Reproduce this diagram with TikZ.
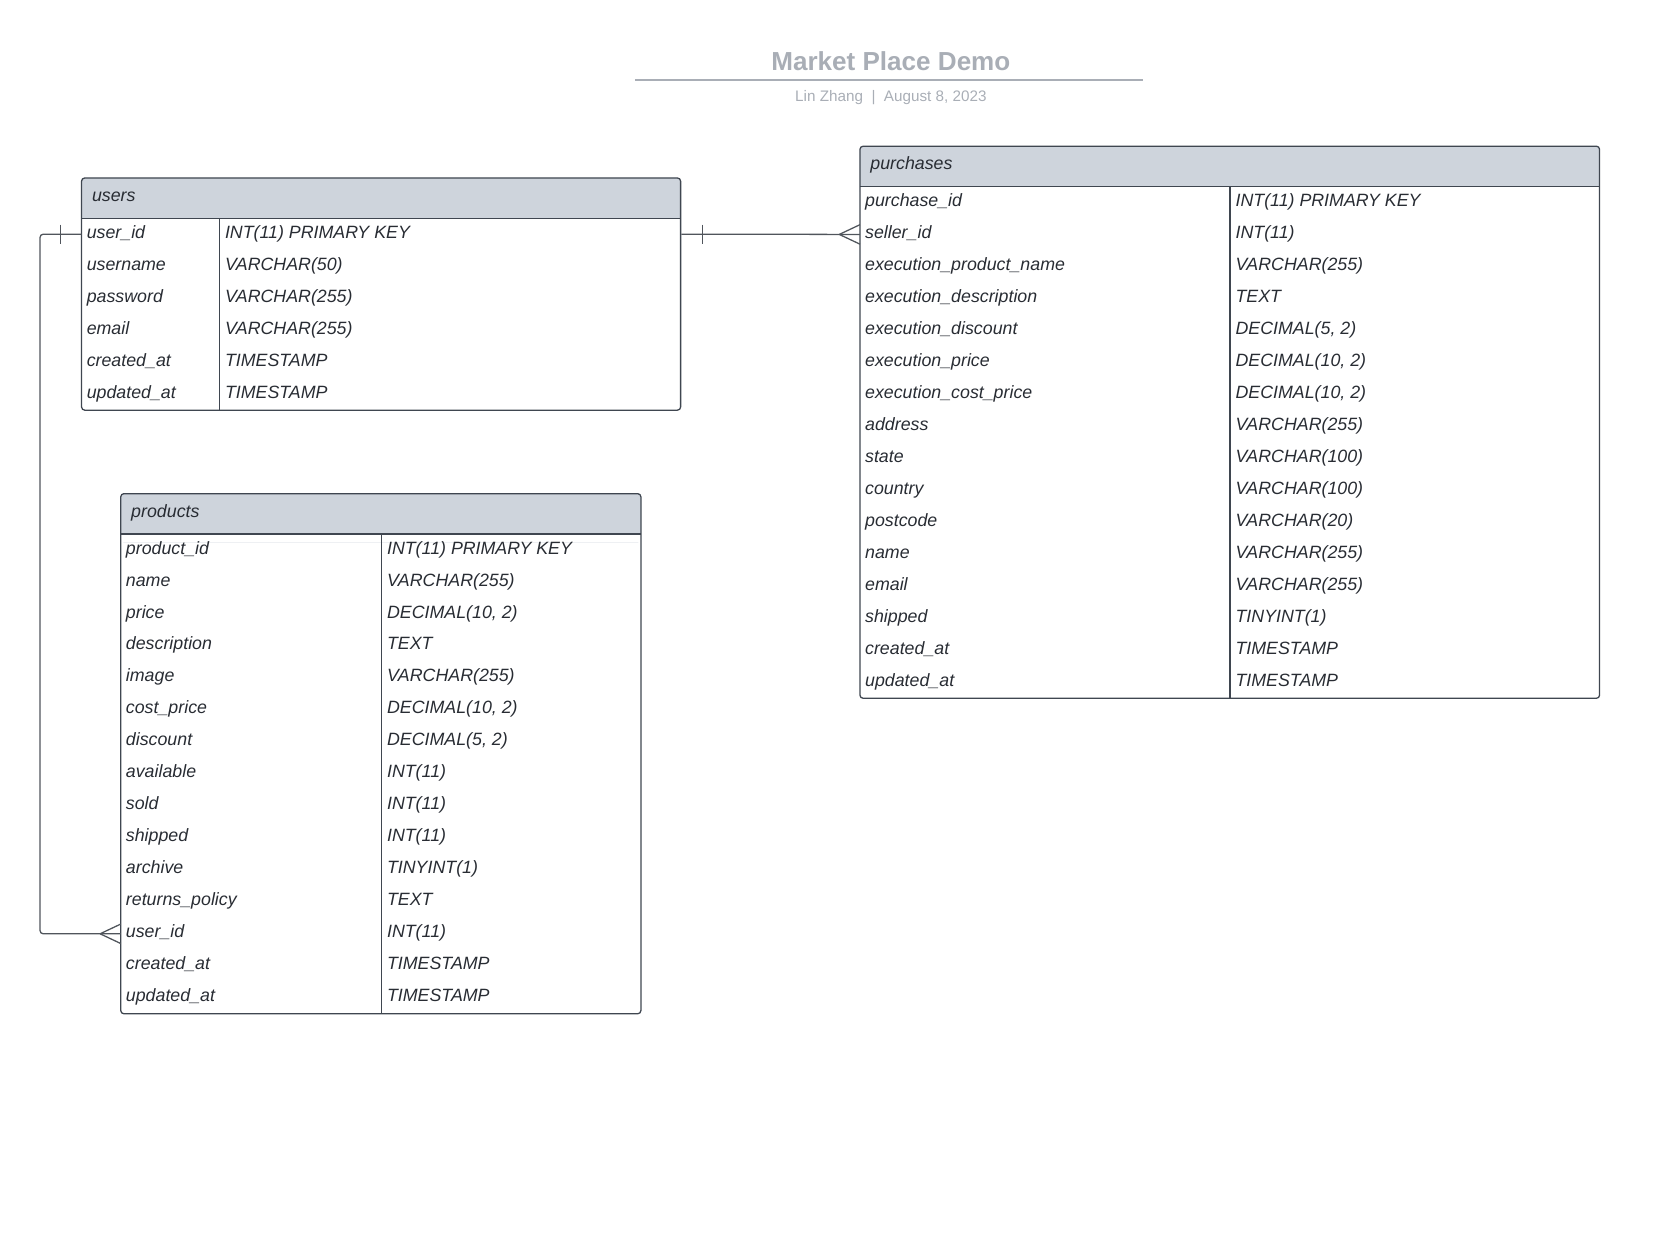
\documentclass[tikz,border=0pt]{standalone}
\usepackage{fontspec}
\setmainfont{Liberation Sans}
\usetikzlibrary{calc,positioning}
\definecolor{titlegray}{HTML}{A9AEB6}
\definecolor{headfill}{HTML}{CED4DC}
\definecolor{edgegray}{HTML}{3F4650}
\definecolor{inkgray}{HTML}{282C33}
\definecolor{linkgray}{HTML}{50555C}

\tikzset{
  rowbox/.style={rectangle, inner sep=0pt, minimum height=15.1pt},
  fieldtxt/.style={anchor=base west, inner sep=0pt, font=\fontsize{8.4}{10}\selectfont\itshape, text=inkgray},
  tblline/.style={draw=edgegray, line width=0.6pt},
  relline/.style={draw=linkgray, line width=0.6pt},
}

\begin{document}
\begin{tikzpicture}[x=0.5pt, y=-0.5pt]
  \useasboundingbox (0,0) rectangle (1568,1171.5);
  \def\rowh{30.2}
  \def\headh{38}

  % Title block
  \node[font=\fontsize{12.3}{14}\selectfont\bfseries, text=titlegray, anchor=base, inner sep=0pt] (title) at (841,66.7) {Market Place Demo};
  \draw[titlegray, line width=0.8pt] (599.4,75.5) -- (1079,75.5);
  \node[font=\fontsize{7.2}{9}\selectfont, text=titlegray, anchor=base, inner sep=0pt] (subtitle) at (841,95.8) {Lin Zhang~~|~~August 8, 2023};

  % users table (6 rows)
  \def\tbl{77} \def\tbr{642.5} \def\tbt{168} \def\tbd{207} \def\nrows{6}
  \pgfmathsetmacro{\hb}{\tbt+\headh}
  \pgfmathsetmacro{\tbb}{\hb+\nrows*\rowh}
  \pgfmathsetmacro{\tbw}{(\tbr-\tbl)*0.5}
  \fill[headfill, rounded corners=1.5pt] (\tbl,\tbt) rectangle (\tbr,\hb+8);
  \fill[white] (\tbl,\hb) rectangle (\tbr,\hb+8);
  \draw[tblline] (\tbl,\hb) -- (\tbr,\hb);
  \draw[tblline] (\tbd,\hb) -- (\tbd,\tbb);
  \draw[tblline, rounded corners=1.5pt] (\tbl,\tbt) rectangle (\tbr,\tbb);
  \node[fieldtxt] (users-head) at (\tbl+9.5,\tbt+22.4) {users};
  \foreach \fname/\ftype [count=\i] in {user\_id/INT(11) PRIMARY KEY, username/VARCHAR(50),
      password/VARCHAR(255), email/VARCHAR(255), created\_at/TIMESTAMP, updated\_at/TIMESTAMP} {
    \pgfmathsetmacro{\yc}{\hb+(\i-0.5)*\rowh}
    \node[rowbox, minimum width=\tbw pt, anchor=west] (users-\i) at (\tbl,\yc) {};
    \node[fieldtxt] (users-\i-f) at (\tbl+4.5,\yc+3.9) {\fname};
    \node[fieldtxt] (users-\i-t) at (\tbd+5,\yc+3.9) {\ftype};
  }

  % purchases table (16 rows)
  \def\tbl{811.8} \def\tbr{1510} \def\tbt{138} \def\tbd{1161} \def\nrows{16}
  \pgfmathsetmacro{\hb}{\tbt+\headh}
  \pgfmathsetmacro{\tbb}{\hb+\nrows*\rowh}
  \pgfmathsetmacro{\tbw}{(\tbr-\tbl)*0.5}
  \fill[headfill, rounded corners=1.5pt] (\tbl,\tbt) rectangle (\tbr,\hb+8);
  \fill[white] (\tbl,\hb) rectangle (\tbr,\hb+8);
  \draw[tblline] (\tbl,\hb) -- (\tbr,\hb);
  \draw[tblline] (\tbd,\hb) -- (\tbd,\tbb);
  \draw[tblline, rounded corners=1.5pt] (\tbl,\tbt) rectangle (\tbr,\tbb);
  \node[fieldtxt] (purchases-head) at (\tbl+9.5,\tbt+22.4) {purchases};
  \foreach \fname/\ftype [count=\i] in {purchase\_id/INT(11) PRIMARY KEY, seller\_id/INT(11),
      execution\_product\_name/VARCHAR(255), execution\_description/TEXT,
      {execution\_discount/DECIMAL(5, 2)}, {execution\_price/DECIMAL(10, 2)},
      {execution\_cost\_price/DECIMAL(10, 2)}, address/VARCHAR(255), state/VARCHAR(100),
      country/VARCHAR(100), postcode/VARCHAR(20), name/VARCHAR(255), email/VARCHAR(255),
      shipped/TINYINT(1), created\_at/TIMESTAMP, updated\_at/TIMESTAMP} {
    \pgfmathsetmacro{\yc}{\hb+(\i-0.5)*\rowh}
    \node[rowbox, minimum width=\tbw pt, anchor=west] (purchases-\i) at (\tbl,\yc) {};
    \node[fieldtxt] (purchases-\i-f) at (\tbl+4.5,\yc+3.9) {\fname};
    \node[fieldtxt] (purchases-\i-t) at (\tbd+5,\yc+3.9) {\ftype};
  }

  % products table (15 rows)
  \def\tbl{114} \def\tbr{605} \def\tbt{466} \def\tbd{360} \def\nrows{15}
  \pgfmathsetmacro{\hb}{\tbt+\headh}
  \pgfmathsetmacro{\tbb}{\hb+\nrows*\rowh}
  \pgfmathsetmacro{\tbw}{(\tbr-\tbl)*0.5}
  \fill[headfill, rounded corners=1.5pt] (\tbl,\tbt) rectangle (\tbr,\hb+8);
  \fill[white] (\tbl,\hb) rectangle (\tbr,\hb+8);
  \draw[tblline] (\tbl,\hb) -- (\tbr,\hb);
  \draw[tblline] (\tbd,\hb) -- (\tbd,\tbb);
  \draw[tblline, rounded corners=1.5pt] (\tbl,\tbt) rectangle (\tbr,\tbb);
  \node[fieldtxt] (products-head) at (\tbl+9.5,\tbt+22.4) {products};
  \foreach \fname/\ftype [count=\i] in {product\_id/INT(11) PRIMARY KEY, name/VARCHAR(255),
      {price/DECIMAL(10, 2)}, description/TEXT, image/VARCHAR(255), {cost\_price/DECIMAL(10, 2)},
      {discount/DECIMAL(5, 2)}, available/INT(11), sold/INT(11), shipped/INT(11),
      archive/TINYINT(1), returns\_policy/TEXT, user\_id/INT(11), created\_at/TIMESTAMP,
      updated\_at/TIMESTAMP} {
    \pgfmathsetmacro{\yc}{\hb+(\i-0.5)*\rowh}
    \node[rowbox, minimum width=\tbw pt, anchor=west] (products-\i) at (\tbl,\yc) {};
    \node[fieldtxt] (products-\i-f) at (\tbl+4.5,\yc+3.9) {\fname};
    \node[fieldtxt] (products-\i-t) at (\tbd+5,\yc+3.9) {\ftype};
  }

  % users.user_id -> purchases.seller_id (one to many)
  \draw[relline] (users-1.east) -- (purchases-2.west);
  \draw[relline] ($(users-1.east)+(19.8,-9)$) -- ++(0,18);
  \draw[relline] ($(purchases-2.west)+(-19.5,0)$) -- ($(purchases-2.west)+(0,-9.2)$);
  \draw[relline] ($(purchases-2.west)+(-19.5,0)$) -- ($(purchases-2.west)+(0,9.2)$);

  % users.user_id -> products.user_id (one to many)
  \draw[relline, rounded corners=1.5pt] (users-1.west) -- ++(-39.2,0) |- (products-13.west);
  \draw[relline] ($(users-1.west)+(-19.8,-9)$) -- ++(0,18);
  \draw[relline] ($(products-13.west)+(-19.5,0)$) -- ($(products-13.west)+(0,-9.2)$);
  \draw[relline] ($(products-13.west)+(-19.5,0)$) -- ($(products-13.west)+(0,9.2)$);
\end{tikzpicture}
\end{document}
